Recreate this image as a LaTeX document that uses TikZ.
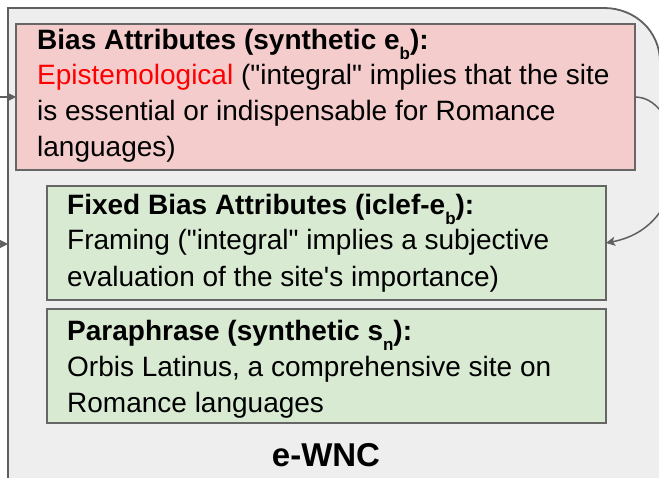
\documentclass[tikz,border=0pt]{standalone}
\usepackage{fontspec}
\setmainfont{Liberation Sans}[Ligatures=TeXOff]
\usetikzlibrary{arrows.meta}
\definecolor{panelgray}{HTML}{EEEEEE}
\definecolor{edgegray}{HTML}{5F5F5F}
\definecolor{boxedge}{HTML}{666666}
\definecolor{biasfill}{HTML}{F4CCCC}
\definecolor{fixfill}{HTML}{D9EAD3}
\definecolor{wordred}{HTML}{FF0000}
% lowered small letter for e_b, s_n
\newcommand\lowsub[1]{\raisebox{-10pt}{\fontsize{17}{17}\selectfont #1}}
\begin{document}
\begin{tikzpicture}[x=1pt,y=-1pt,
  panel/.style={fill=panelgray,draw=edgegray,line width=1.8pt},
  card/.style={draw=boxedge,line width=1.6pt,anchor=north west,inner sep=0pt,outer sep=0pt},
  biascard/.style={card,fill=biasfill},
  fixcard/.style={card,fill=fixfill},
  head/.style={anchor=base west,inner sep=0pt,font=\fontsize{28}{34}\selectfont\bfseries},
  body/.style={anchor=base west,inner sep=0pt,font=\fontsize{28}{34}\selectfont},
  title/.style={anchor=base,inner sep=0pt,font=\fontsize{33}{38}\selectfont\bfseries},
  link/.style={draw=edgegray,line width=1.5pt,-{Stealth[length=9pt,width=9pt,inset=2pt]}}
]
\useasboundingbox (0,0) rectangle (659,478);
\clip (0,0) rectangle (659,478);

% outer e-WNC panel, rounded at the top right
\path[panel] (8,530) -- (8,8) -- (604,8)
  .. controls (634.9,8) and (660,31.1) .. (660,62) -- (660,530) -- cycle;
\coordinate (panelleft) at (8,244);
\coordinate (feedA) at (-4,97);
\coordinate (feedB) at (-4,244);

% attribute cards
\node[biascard,minimum width=619pt,minimum height=146pt] (bias) at (16,24) {};
\node[fixcard,minimum width=559pt,minimum height=114pt] (fixed) at (47,186) {};
\node[fixcard,minimum width=559pt,minimum height=114pt] (para) at (47,309) {};

% card texts
\node[head] (biasH) at (37,50) {Bias Attributes (synthetic e\lowsub{b}):};
\node[body] (biasA) at (37,85) {\textcolor{wordred}{Epistemological} ("integral" implies that the site};
\node[body] (biasB) at (37,121) {is essential or indispensable for Romance};
\node[body] (biasC) at (37,157) {languages)};

\node[head] (fixedH) at (67,215) {Fixed Bias Attributes (iclef-e\lowsub{b}):};
\node[body] (fixedA) at (67,250) {Framing ("integral" implies a subjective};
\node[body] (fixedB) at (67,287) {evaluation of the site's importance)};

\node[head] (paraH) at (67,341) {Paraphrase (synthetic s\lowsub{n}):};
\node[body] (paraA) at (67,377) {Orbis Latinus, a comprehensive site on};
\node[body] (paraB) at (67,413) {Romance languages};

\node[title] (wnc) at (326,466) {e-WNC};

% connectors
\draw[link] (feedA) -- (bias.west);
\draw[link] (feedB) -- (panelleft);
\draw[link] (bias.east) .. controls (685,97) and (700,225) .. (fixed.east);
\end{tikzpicture}
\end{document}
